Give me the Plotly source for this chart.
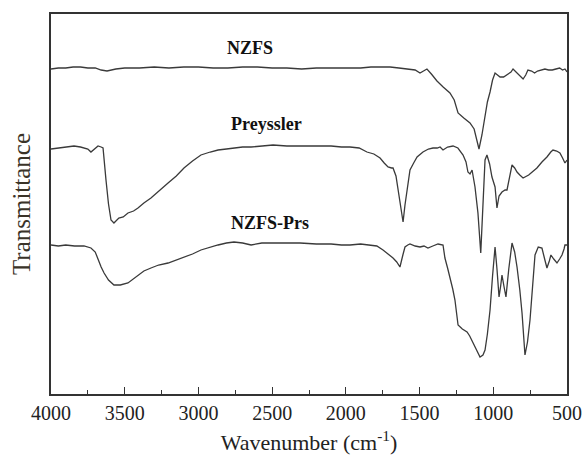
import plotly.graph_objects as go

# Wavenumber (cm^-1) and transmittance (arbitrary units)
nzfs_w = [4000, 3950, 3900, 3850, 3800, 3750, 3700, 3660, 3620, 3560, 3500, 3400, 3300, 3200, 3100,
          3000, 2900, 2800, 2700, 2600, 2500, 2400, 2300, 2200, 2100, 2000, 1900, 1830, 1768, 1700,
          1640, 1580, 1530, 1497, 1470, 1450, 1420, 1382, 1340, 1294, 1265, 1239, 1200, 1158, 1130,
          1110, 1097, 1077, 1056, 1040, 1022, 1005, 988, 970, 954, 930, 900, 880, 866, 840, 820, 798,
          780, 765, 740, 720, 700, 680, 650, 625, 600, 575, 550, 530, 514, 500]
nzfs_t = [325, 326, 326, 327, 327, 326, 326, 324, 323, 325, 326, 326, 327, 326, 327,
          327, 326, 326, 327, 327, 326, 326, 325, 326, 326, 326, 326, 327, 327, 327,
          326, 325, 324, 321, 323, 325, 320, 313, 307, 301, 294, 281, 276, 271, 265,
          254, 245, 259, 279, 292, 302, 314, 321, 319, 317, 317, 320, 322, 325, 321, 319, 315,
          319, 324, 323, 321, 323, 324, 325, 324, 324, 325, 326, 324, 325, 322]

prey_w = [4000, 3950, 3900, 3844, 3800, 3776, 3750, 3729, 3700, 3681, 3660, 3647, 3627, 3610, 3593,
          3573, 3540, 3510, 3478, 3440, 3410, 3370, 3322, 3270, 3206, 3150, 3098, 3040, 2983, 2920,
          2867, 2810, 2759, 2700, 2643, 2570, 2494, 2400, 2311, 2200, 2100, 2030, 1972, 1910, 1857,
          1810, 1768, 1740, 1714, 1690, 1680, 1660, 1646, 1628, 1612, 1599, 1580, 1565, 1540, 1517,
          1477, 1440, 1409, 1380, 1361, 1341, 1310, 1273, 1240, 1205, 1185, 1172, 1158, 1144, 1124,
          1104, 1085, 1070, 1056, 1043, 1025, 1009, 988, 975, 961, 941, 920, 907, 890, 873, 855,
          839, 820, 798, 760, 704, 670, 636, 610, 595, 570, 548, 530, 514, 500]
prey_t = [245, 246, 247, 248, 247, 246, 245, 242, 246, 248, 247, 246, 214, 190, 174,
          171, 176, 177, 181, 183, 186, 191, 196, 203, 211, 218, 226, 233, 239, 242,
          244, 245, 246, 247, 247, 248, 249, 248, 248, 248, 248, 247, 247, 246, 242,
          240, 236, 231, 227, 226, 226, 218, 204, 186, 172, 189, 212, 224, 231, 237,
          242, 245, 246, 246, 247, 244, 247, 248, 246, 239, 232, 222, 220, 224, 207,
          181, 141, 194, 234, 239, 230, 217, 207, 186, 198, 202, 204, 204, 215, 229, 226,
          222, 219, 216, 219, 226, 232, 237, 242, 244, 243, 241, 236, 231, 234]

prs_w = [4000, 3950, 3900, 3840, 3776, 3750, 3729, 3700, 3681, 3660, 3640, 3610, 3573, 3530, 3478,
         3440, 3410, 3370, 3322, 3270, 3206, 3150, 3098, 3040, 2983, 2920, 2867, 2810, 2759, 2700,
         2643, 2570, 2494, 2400, 2311, 2200, 2100, 2030, 1972, 1900, 1836, 1790, 1748, 1710, 1680,
         1655, 1633, 1615, 1599, 1580, 1565, 1530, 1497, 1470, 1443, 1410, 1375, 1341, 1328, 1310,
         1294, 1275, 1260, 1239, 1210, 1178, 1160, 1138, 1110, 1090, 1070, 1056, 1040, 1022, 1005,
         988, 975, 961, 950, 941, 928, 914, 895, 873, 855, 839, 820, 805, 785, 768, 751, 735,
         717, 695, 670, 650, 636, 620, 609, 590, 568, 550, 534, 520, 514, 500]
prs_t = [149, 148, 149, 148, 148, 147, 146, 142, 134, 127, 121, 114, 109, 109, 111,
         115, 119, 123, 126, 129, 131, 134, 137, 140, 144, 147, 149, 151, 152, 151,
         149, 151, 151, 151, 151, 150, 150, 149, 149, 150, 149, 148, 144, 140, 136,
         132, 127, 138, 147, 149, 150, 148, 147, 148, 146, 148, 150, 149, 136, 126,
         117, 105, 94, 69, 65, 62, 58, 51, 43, 37, 39, 44, 60, 84, 118,
         147, 125, 97, 108, 119, 108, 97, 125, 151, 142, 127, 104, 81, 39, 52, 74, 105,
         139, 147, 146, 134, 126, 133, 139, 135, 131, 135, 139, 145, 149, 149]

series_names = ["NZFS", "Preyssler", "NZFS-Prs"]
label_w = [2650, 2535, 2514]
label_t = [346, 270, 171]

x_ticks = [4000, 3500, 3000, 2500, 2000, 1500, 1000, 500]

fig = go.Figure()
for w, t, name in [(nzfs_w, nzfs_t, series_names[0]),
                   (prey_w, prey_t, series_names[1]),
                   (prs_w, prs_t, series_names[2])]:
    fig.add_trace(go.Scatter(x=w, y=t, mode="lines", name=name,
                             line=dict(color="#3a3a3a", width=1.3),
                             showlegend=False))

for name, lw, lt in zip(series_names, label_w, label_t):
    fig.add_annotation(x=lw, y=lt, text="<b>%s</b>" % name, showarrow=False,
                       font=dict(family="Liberation Serif", size=18, color="#111111"))

fig.update_layout(
    width=587, height=466,
    margin=dict(l=51, r=20, t=14, b=72, autoexpand=False),
    plot_bgcolor="white", paper_bgcolor="white",
    font=dict(family="Liberation Serif", color="#222222"),
)
fig.update_xaxes(
    range=[4000, 500], tickvals=x_ticks, ticktext=[str(v) for v in x_ticks],
    ticks="inside", ticklen=7, tickwidth=1.2, tickcolor="#333333",
    minor=dict(ticks="inside", ticklen=4, tickwidth=1.2, tickcolor="#333333", dtick=250, tick0=500),
    showline=True, linecolor="#333333", linewidth=1.5, mirror=True,
    showgrid=False, zeroline=False, automargin=False, ticklabeloverflow="allow",
    tickfont=dict(family="Liberation Serif", size=20, color="#222222"),
    title=dict(text="Wavenumber (cm<sup>-1</sup>)", standoff=12,
               font=dict(family="Liberation Serif", size=22, color="#222222")),
)
fig.update_yaxes(
    range=[0, 380], showticklabels=False, ticks="",
    showline=True, linecolor="#333333", linewidth=1.5, mirror=True,
    showgrid=False, zeroline=False, automargin=False,
    title=dict(text="Transmittance", standoff=12,
               font=dict(family="Liberation Serif", size=25, color="#3a3328")),
)

# remove the browser's default 8px body margin so the figure fills the window exactly
fig.write_html("out.html", config={"displayModeBar": False},
               post_script="document.body.style.margin='0';document.body.style.overflow='hidden';")
